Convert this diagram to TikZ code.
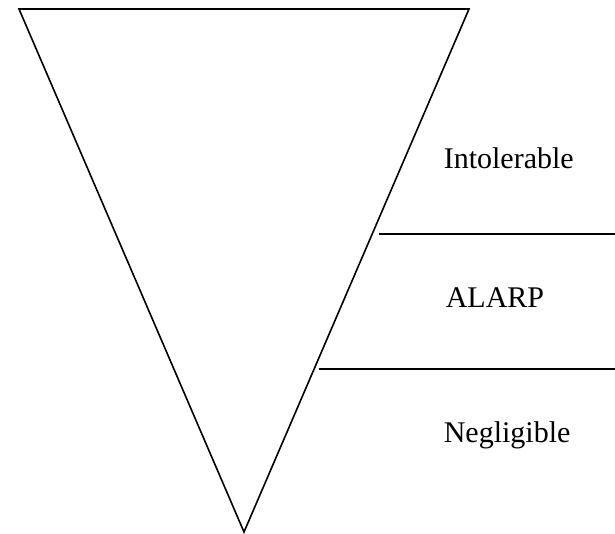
\documentclass[tikz,border=0pt]{standalone}
\usepackage{fontspec}
\setmainfont{Liberation Serif}
\begin{document}
\begin{tikzpicture}[x=1pt, y=-1pt, line width=1.6pt, line join=miter]
    \tikzset{zone/.style={anchor=base west, inner sep=0pt, font=\fontsize{30}{36}\selectfont}}
    \useasboundingbox (0,0) rectangle (615,534);

    \coordinate (TL) at (19,9);
    \coordinate (TR) at (469,9);
    \coordinate (B) at (244,532);
    \draw (TL) -- (TR) -- (B) -- cycle;

    \coordinate (upper) at (379,234);
    \coordinate (upperEnd) at (615,234);
    \coordinate (lower) at (319,369);
    \coordinate (lowerEnd) at (615,369);
    \draw (upper) -- (upperEnd);
    \draw (lower) -- (lowerEnd);

    \node[zone] (intol) at (443,169) {Intolerable};
    \node[zone] (alarp) at (445,307) {ALARP};
    \node[zone] (neglig) at (443,442) {Negligible};
\end{tikzpicture}
\end{document}
